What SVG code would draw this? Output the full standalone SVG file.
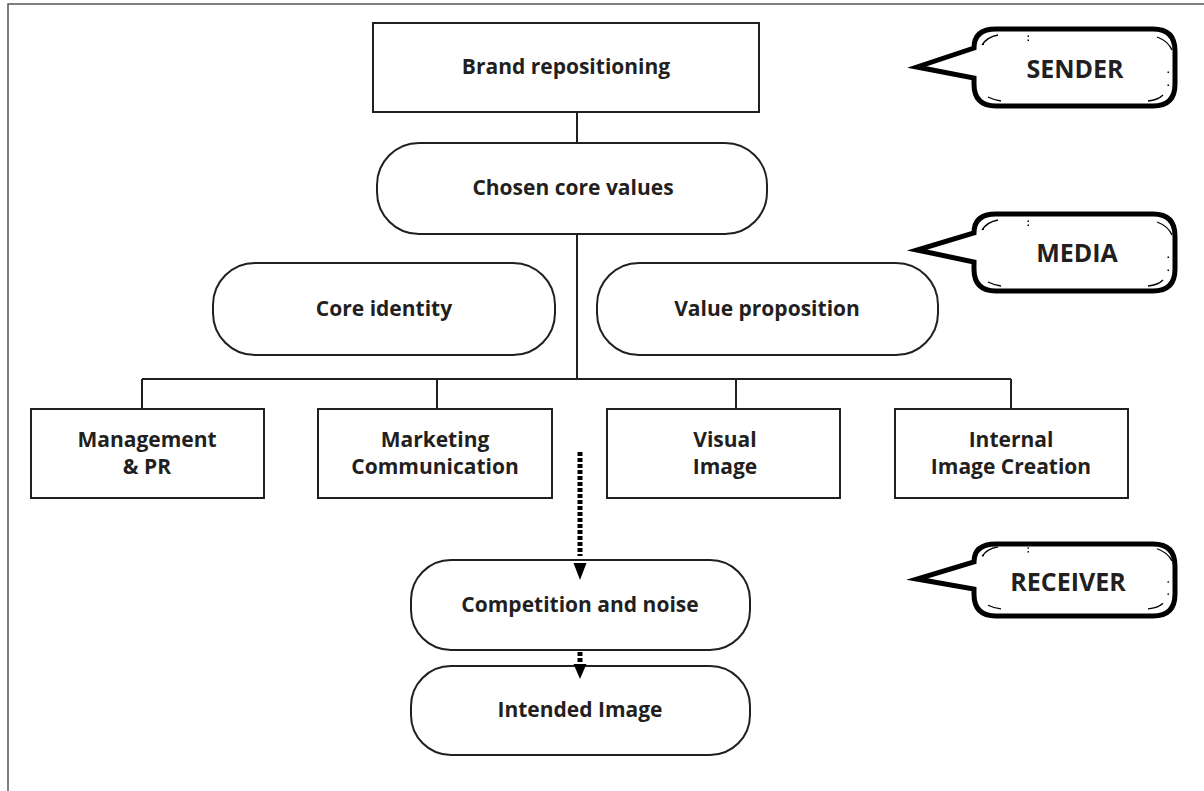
<svg xmlns="http://www.w3.org/2000/svg" width="1204" height="791" viewBox="0 0 1204 791">
<defs>
<style>
.bg{fill:#fff}
.frame{fill:none;stroke:#555;stroke-width:1.5}
.box{fill:#fff;stroke:#231f20;stroke-width:2}
.line{fill:none;stroke:#231f20;stroke-width:2}
.t{font-family:"Open Sans","Noto Sans","Liberation Sans",sans-serif;font-weight:700;font-size:21px;fill:#231f20;text-anchor:middle}
.ct{font-family:"Open Sans","Noto Sans","Liberation Sans",sans-serif;font-weight:700;font-size:25px;fill:#231f20;text-anchor:middle}
.bubble{fill:#fff;stroke:#000;stroke-width:5;stroke-linejoin:miter;stroke-miterlimit:12}
.deco{fill:none;stroke:#000;stroke-width:1.3}
.dot{fill:#000}
.dash{fill:none;stroke:#000;stroke-width:5;stroke-dasharray:4 2}
.head{fill:#000}
</style>
<g id="bubbleDeco">
<path class="deco" d="M982,45 Q987,37 998,35"/>
<path class="deco" d="M1157,37 Q1168,41 1172,50"/>
<path class="deco" d="M988,97 Q994,100 1001,101"/>
<path class="deco" d="M1148,101 Q1158,100 1163,95"/>
<rect class="dot" x="1027.5" y="35.5" width="1.5" height="1.5"/>
<rect class="dot" x="1027.5" y="39.5" width="1.5" height="1.5"/>
<rect class="dot" x="1167.5" y="71.5" width="1.5" height="1.5"/>
<rect class="dot" x="1167.5" y="84.5" width="1.5" height="1.5"/>
<rect class="dot" x="982.5" y="43.5" width="1.5" height="1.5"/>
</g>
</defs>
<rect class="bg" x="0" y="0" width="1204" height="791"/>
<rect class="frame" x="8" y="4" width="1300" height="900"/>

<g id="brand">
<rect class="box" x="373" y="23" width="386" height="89"/>
<text class="t" x="566" y="74">Brand repositioning</text>
</g>
<g id="chosen">
<rect class="box" x="377" y="143" width="390" height="91" rx="42" ry="42"/>
<text class="t" x="573" y="195">Chosen core values</text>
</g>
<g id="coreidentity">
<rect class="box" x="213" y="263" width="342" height="92" rx="42" ry="42"/>
<text class="t" x="384" y="316">Core identity</text>
</g>
<g id="valueprop">
<rect class="box" x="597" y="263" width="341" height="92" rx="42" ry="42"/>
<text class="t" x="767" y="316">Value proposition</text>
</g>
<g id="management">
<rect class="box" x="31" y="409" width="233" height="89"/>
<text class="t" x="147" y="447">Management</text>
<text class="t" x="147" y="474">&amp; PR</text>
</g>
<g id="marketing">
<rect class="box" x="318" y="409" width="234" height="89"/>
<text class="t" x="435" y="447">Marketing</text>
<text class="t" x="435" y="474">Communication</text>
</g>
<g id="visual">
<rect class="box" x="607" y="409" width="233" height="89"/>
<text class="t" x="725" y="447">Visual</text>
<text class="t" x="725" y="474">Image</text>
</g>
<g id="internal">
<rect class="box" x="895" y="409" width="233" height="89"/>
<text class="t" x="1011" y="447">Internal</text>
<text class="t" x="1011" y="474">Image Creation</text>
</g>
<g id="competition">
<rect class="box" x="411" y="560" width="339" height="90" rx="40" ry="40"/>
<text class="t" x="580" y="612">Competition and noise</text>
</g>
<g id="intended">
<rect class="box" x="411" y="666" width="339" height="89" rx="40" ry="40"/>
<text class="t" x="580" y="717">Intended Image</text>
</g>

<g id="sender">
<path class="bubble" d="M974,48 Q974,29 996,29 H1153 Q1175,29 1175,51 V84 Q1175,106 1153,106 H996 Q974,106 974,84 V78 L917,67 Z"/>
<use href="#bubbleDeco"/>
<text class="ct" x="1075" y="78">SENDER</text>
</g>
<g id="media">
<path class="bubble" d="M974,233 Q974,214 996,214 H1153 Q1175,214 1175,236 V269 Q1175,291 1153,291 H996 Q974,291 974,269 V262 L917,250 Z"/>
<use href="#bubbleDeco" transform="translate(0,185)"/>
<text class="ct" x="1077" y="262">MEDIA</text>
</g>
<g id="receiver">
<path class="bubble" d="M974,562 Q974,544 996,544 H1153 Q1175,544 1175,566 V594 Q1175,616 1153,616 H996 Q974,616 974,594 V589 L917,579 Z"/>
<use href="#bubbleDeco" transform="translate(0,514) scale(1,0.94)"/>
<text class="ct" x="1068" y="591">RECEIVER</text>
</g>

<g id="connectors">
<line class="line" x1="577" y1="112" x2="577" y2="143"/>
<line class="line" x1="577" y1="234" x2="577" y2="379"/>
<line class="line" x1="142" y1="379" x2="1011" y2="379"/>
<line class="line" x1="142" y1="379" x2="142" y2="409"/>
<line class="line" x1="437" y1="379" x2="437" y2="409"/>
<line class="line" x1="736" y1="379" x2="736" y2="409"/>
<line class="line" x1="1011" y1="379" x2="1011" y2="409"/>
<line class="dash" x1="580" y1="452" x2="580" y2="556"/>
<polygon class="head" points="573.5,563 586.5,563 580,580"/>
<line class="dash" x1="580" y1="652" x2="580" y2="662"/>
<polygon class="head" points="573.5,664 586.5,664 580,679"/>
</g>
</svg>
